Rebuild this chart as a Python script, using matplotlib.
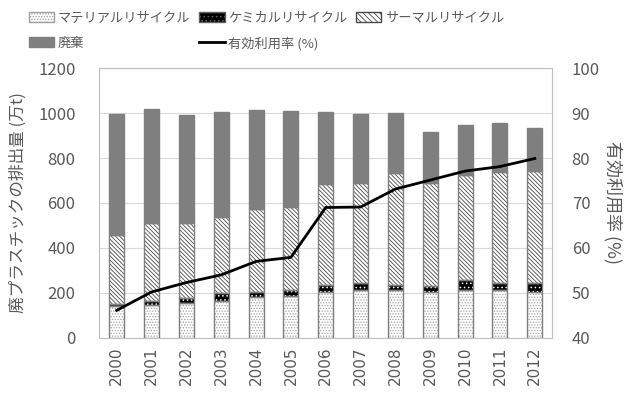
"""
Waste plastic output by treatment method and effective utilization rate.
"""

import numpy as np
import matplotlib
matplotlib.use("Agg")
import matplotlib.pyplot as plt
from matplotlib.patches import Patch
from matplotlib.lines import Line2D

plt.rcParams["font.family"] = ["Noto Sans CJK JP", "DejaVu Sans"]
plt.rcParams["hatch.linewidth"] = 0.6

YEARS = [str(y) for y in range(2000, 2013)]
MATERIAL = [140, 147, 154, 166, 181, 187, 203, 213, 215, 203, 215, 213, 204]
CHEMICAL = [10, 19, 25, 33, 25, 26, 30, 30, 22, 28, 43, 33, 39]
THERMAL_TOP = [458, 510, 510, 539, 573, 581, 684, 690, 732, 687, 724, 739, 742]
TOTAL = [998, 1016, 991, 1003, 1013, 1009, 1006, 994, 1002, 914, 947, 954, 932]
RATE = [46.1, 50.2, 52.3, 54.0, 57.0, 57.9, 69.0, 69.1, 73.1, 75.1, 77.1, 78.1, 79.9]

TEXT = "#595959"
EDGE = "#7f7f7f"
THERMAL_HATCH = "\\" * 8


def stacked_layer(ax, x, bottom, height, face, hatch, hatch_color, width):
    ax.bar(x, height, width, bottom=bottom, color=face, hatch=hatch,
           edgecolor=hatch_color, linewidth=0, zorder=2)
    ax.bar(x, height, width, bottom=bottom, fill=False,
           edgecolor=EDGE, linewidth=1, zorder=3)


def create_chart() -> None:
    material = np.array(MATERIAL)
    chemical = np.array(CHEMICAL)
    thermal = np.array(THERMAL_TOP) - material - chemical
    waste = np.array(TOTAL) - np.array(THERMAL_TOP)
    x = np.arange(len(YEARS))
    w = 0.43

    fig = plt.figure(figsize=(6.24, 4.08), dpi=100)
    ax = fig.add_axes([0.159, 0.172, 0.726, 0.661])

    stacked_layer(ax, x, 0, material, "white", "......", "#a0a0a0", w)
    stacked_layer(ax, x, material, chemical, "black", "....", "white", w)
    stacked_layer(ax, x, material + chemical, thermal, "white", THERMAL_HATCH, "#4a4a4a", w)
    ax.bar(x, waste, w, bottom=np.array(THERMAL_TOP), color=EDGE,
           edgecolor=EDGE, linewidth=1, zorder=2)

    ax.set_xlim(-0.5, len(YEARS) - 0.5)
    ax.set_ylim(0, 1200)
    ax.set_yticks(range(0, 1201, 200))
    ax.set_xticks(x)
    ax.set_xticklabels(YEARS, rotation=90, fontsize=11, color=TEXT,
                       family="DejaVu Sans")
    ax.tick_params(axis="y", labelsize=12, labelcolor=TEXT, length=0, pad=17)
    ax.tick_params(axis="x", length=0, pad=6)
    ax.grid(axis="y", color="#d9d9d9", linewidth=0.8, zorder=0)
    ax.set_axisbelow(True)
    for s in ax.spines.values():
        s.set_color("#bfbfbf")
    ax.set_ylabel("廃プラスチックの排出量 (万t)", fontsize=12, color=TEXT,
                  labelpad=8)

    ax2 = ax.twinx()
    ax2.plot(x, RATE, color="black", linewidth=2, zorder=5)
    ax2.set_ylim(40, 100)
    ax2.set_yticks(range(40, 101, 10))
    ax2.tick_params(axis="y", labelsize=12, labelcolor=TEXT, length=0, pad=14)
    for s in ax2.spines.values():
        s.set_visible(False)
    ax2.set_ylabel("有効利用率 (%)", fontsize=13, color=TEXT, rotation=270,
                   labelpad=16)

    handles = [
        Patch(facecolor="white", edgecolor="#a0a0a0", hatch="......"),
        Patch(facecolor=EDGE, edgecolor=EDGE),
        Patch(facecolor="black", edgecolor="#606060", hatch="...."),
        Line2D([], [], color="black", linewidth=2),
        Patch(facecolor="white", edgecolor="#4a4a4a", hatch="\\" * 6),
    ]
    labels = ["マテリアルリサイクル", "廃棄", "ケミカルリサイクル",
              "有効利用率 (%)", "サーマルリサイクル"]
    fig.legend(handles, labels, loc="upper left", bbox_to_anchor=(0.028, 1.0),
               ncol=3, frameon=False, fontsize=9.5, handlelength=1.9,
               handleheight=0.8, handletextpad=0.25, columnspacing=0.7,
               labelspacing=0.9, labelcolor=TEXT)

    fig.savefig("out.png", dpi=100)


if __name__ == "__main__":
    create_chart()
